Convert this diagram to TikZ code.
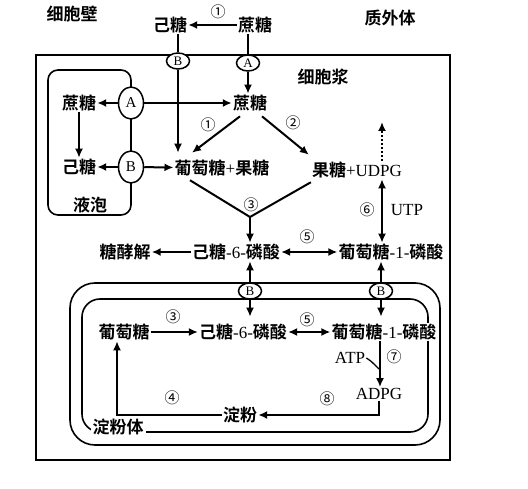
\documentclass[tikz,border=0pt]{standalone}
\usepackage{fontspec}
\setmainfont{Liberation Serif}
\newfontfamily\cjk{Noto Sans CJK SC}[BoldFont={Noto Sans CJK SC Bold}]

\usetikzlibrary{arrows.meta,shapes.geometric}

\begin{document}
\begin{tikzpicture}[x=1pt, y=-1pt,
                    every node/.style={font=\fontsize{17}{20}\selectfont\cjk\bfseries, inner sep=1pt},
                    num/.style={font=\fontsize{15}{17}\selectfont\cjk},
                    latin/.style={font=\fontsize{17}{20}\selectfont},
                    fleche/.style={-{Latex[length=9pt,width=8pt]}, line width=2pt},
                    dfleche/.style={{Latex[length=9pt,width=8pt]}-{Latex[length=9pt,width=8pt]}, line width=2pt},
                    trait/.style={line width=2pt},
                    membrane/.style={line width=1.6pt},
                    canal/.style={ellipse, draw, line width=1.5pt, fill=white, inner sep=0pt,
                                  minimum width=23pt, minimum height=16pt, font=\fontsize{13}{15}\selectfont},
                    canalv/.style={canal, minimum height=32pt, minimum width=25pt, font=\fontsize{15}{17}\selectfont}
                ]
\useasboundingbox (0,0) rectangle (528,489);

% membranes
\draw[membrane] (36,55) rectangle (450,460);
\draw[membrane, rounded corners=10pt] (48,70) rectangle (131,215);
\draw[membrane, rounded corners=25pt] (70,283) rectangle (440,445);
\draw[membrane, rounded corners=18pt] (82,299) rectangle (428,432);

% labels
\node (wall) at (72,14) {细胞壁};
\node (apo) at (390,18) {质外体};
\node (cyto) at (323,77) {细胞浆};
\node (vacLabel) at (90,205) {液泡};
\node[fill=white, inner sep=2pt] (amyLabel) at (118,427) {淀粉体};

% apoplaste
\node (hexA) at (170,25) {己糖};
\node (sucA) at (255,25) {蔗糖};
\node[num] (n1a) at (218,12) {①};
\node[canal] (chB) at (178,61) {B};
\node[canal] (chA) at (248,63) {A};

% vacuole
\node[canalv] (vacA) at (131,103) {A};
\node[canalv] (vacB) at (131,167) {B};
\node (sucV) at (79,103) {蔗糖};
\node (hexV) at (79,167) {己糖};

% cytoplasme
\node (sucC) at (250,103) {蔗糖};
\node (gf) at (222,168) {葡萄糖{\rmfamily\mdseries +}果糖};
\node (fu) at (357,170) {果糖{\rmfamily\mdseries +UDPG}};
\node[num] (n1b) at (208,125) {①};
\node[num] (n2) at (293,123) {②};
\node[num] (n3a) at (251,205) {③};
\node[num] (n6) at (367,210) {⑥};
\node[latin] (utp) at (407,210) {UTP};
\node[num] (n5a) at (307,237) {⑤};
\node (glyc) at (125,252) {糖酵解};
\node (h6p) at (236,252) {己糖{\rmfamily\mdseries -6-}磷酸};
\node (g1p) at (391,252) {葡萄糖{\rmfamily\mdseries -1-}磷酸};
\coordinate (merge) at (250,217);
\coordinate (up) at (382,122);

% amyloplaste
\node[canal] (pB1) at (250,291) {B};
\node[canal] (pB2) at (381,291) {B};
\node (glI) at (124,332) {葡萄糖};
\node (h6pI) at (243,332) {己糖{\rmfamily\mdseries -6-}磷酸};
\node[fill=white] (g1pI) at (384,332) {葡萄糖{\rmfamily\mdseries -1-}磷酸};
\node[num] (n3b) at (173,317) {③};
\node[num] (n5b) at (307,320) {⑤};
\node[latin] (atp) at (350,358) {ATP};
\node[num] (n7) at (394,357) {⑦};
\node[latin] (adpg) at (379,394) {ADPG};
\node[num] (n8) at (327,399) {⑧};
\node (starch) at (240,415) {淀粉};
\node[num] (n4) at (172,398) {④};

% fleches
\draw[fleche] (sucA) -- (hexA);
\draw[trait] (chB.north |- hexA.south) -- (chB.north);
\draw[trait] (chA.north |- sucA.south) -- (chA.north);
\draw[fleche] (chA.south) -- (sucC.north -| chA.south);
\draw[fleche] (chB.south) -- ([yshift=6pt]chB.south |- gf.north);
\draw[fleche] (vacA) -- (sucV);
\draw[fleche] (vacA) -- (sucC);
\draw[fleche] (sucV) -- (hexV);
\draw[fleche] (vacB) -- (hexV);
\draw[fleche] (vacB) -- (gf);
\draw[fleche] ([xshift=-10pt,yshift=-4pt]sucC.south) -- ([xshift=-30pt,yshift=6pt]gf.north);
\draw[fleche] ([xshift=12pt,yshift=-4pt]sucC.south) -- ([xshift=-2pt,yshift=6pt]fu.north west);
\draw[trait] ([xshift=-32pt,yshift=-3pt]gf.south) -- (merge) -- ([yshift=-3pt]fu.south west);
\draw[fleche] (merge) -- (merge |- h6p.north);
\draw[fleche, dotted] (up |- fu.north) -- (up);
\draw[dfleche] (up |- fu.south) -- (up |- g1p.north);
\draw[fleche] (h6p) -- (glyc);
\draw[dfleche] (h6p) -- (g1p);
\draw[fleche] (pB1) -- (pB1 |- h6p.south);
\draw[fleche] (pB1) -- ([yshift=6pt]pB1 |- h6pI.north);
\draw[fleche] (pB2) -- (pB2 |- g1p.south);
\draw[fleche] (pB2) -- ([yshift=6pt]pB2 |- g1pI.north);
\draw[fleche] (glI) -- (h6pI);
\draw[dfleche] (h6pI) -- (g1pI);
\draw[fleche] ([xshift=-4pt]g1pI.south) -- ([xshift=-4pt]g1pI.south |- adpg.north);
\draw[line width=1.3pt] (atp.east) .. controls (371,361) .. (379,369);
\draw[fleche] (adpg.south) -- (adpg.south |- starch) -- (starch.east);
\draw[fleche] (starch.west) -| ([xshift=-7pt]glI.south);
\end{tikzpicture}
\end{document}
